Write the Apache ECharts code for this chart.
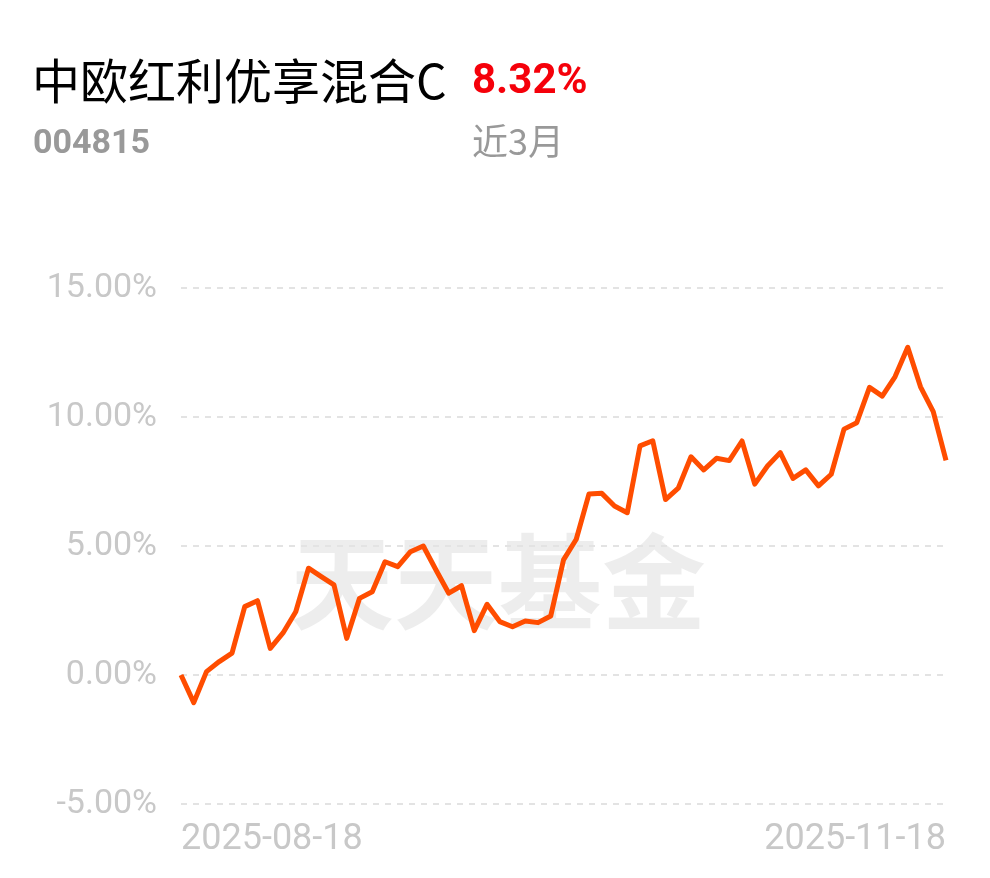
<!DOCTYPE html>
<html><head><meta charset="utf-8">
<script src="https://cdn.jsdelivr.net/npm/echarts@6/dist/echarts.min.js"></script>
<style>html,body{margin:0;padding:0;background:#fff}#c{width:990px;height:878px}</style>
</head><body><div id="c"></div>
<script>
var fundName = '中欧红利优享混合C';
var fundCode = '004815';
var periodReturn = '8.32%';
var periodLabel = '近3月';
var watermark = '天天基金';
var dates = [
'2025-08-18','2025-08-19','2025-08-20','2025-08-21','2025-08-22',
'2025-08-25','2025-08-26','2025-08-27','2025-08-28','2025-08-29',
'2025-09-01','2025-09-02','2025-09-03','2025-09-04','2025-09-05',
'2025-09-08','2025-09-09','2025-09-10','2025-09-11','2025-09-12',
'2025-09-15','2025-09-16','2025-09-17','2025-09-18','2025-09-19',
'2025-09-22','2025-09-23','2025-09-24','2025-09-25','2025-09-26',
'2025-09-29','2025-09-30',
'2025-10-09','2025-10-10',
'2025-10-13','2025-10-14','2025-10-15','2025-10-16','2025-10-17',
'2025-10-20','2025-10-21','2025-10-22','2025-10-23','2025-10-24',
'2025-10-27','2025-10-28','2025-10-29','2025-10-30','2025-10-31',
'2025-11-03','2025-11-04','2025-11-05','2025-11-06','2025-11-07',
'2025-11-10','2025-11-11','2025-11-12','2025-11-13','2025-11-14',
'2025-11-17','2025-11-18'];
var returns = [
0.00,-1.07,0.13,0.52,0.85,2.65,2.88,1.03,1.63,2.45,
4.14,3.81,3.49,1.42,2.97,3.23,4.39,4.20,4.78,5.00,
4.07,3.17,3.46,1.72,2.74,2.07,1.87,2.09,2.03,2.29,
4.46,5.26,7.02,7.04,6.55,6.29,8.88,9.08,6.80,7.24,
8.46,7.95,8.40,8.31,9.07,7.40,8.10,8.62,7.62,7.95,
7.33,7.78,9.53,9.78,11.15,10.81,11.56,12.70,11.17,10.21,8.32];
var yMin = -5, yMax = 15, yStep = 5;

var chart = echarts.init(document.getElementById('c'));
var last = dates.length - 1;
chart.setOption({
  animation: false,
  backgroundColor: '#fff',
  grid: {left: 181, right: 44, top: 288, bottom: 74},
  graphic: [
    {type:'text', left:32, top:57, z:10, style:{text:fundName, fill:'#000', font:'normal 48px "Noto Sans CJK SC", sans-serif'}},
    {type:'text', left:472, top:61, z:10, style:{text:periodReturn, fill:'#f5000a', font:'bold 42px Roboto, "Noto Sans", sans-serif'}},
    {type:'text', left:33, top:127, z:10, style:{text:fundCode, fill:'#999', font:'bold 34px Roboto, "Noto Sans", sans-serif'}},
    {type:'text', left:472, top:123, z:10, style:{text:periodLabel, fill:'#999', font:'normal 36px "Noto Sans CJK SC", sans-serif'}},
    {type:'text', left:290, top:530, z:0, silent:true, style:{text:watermark, fill:'rgba(0,0,0,0.07)', font:'bold 104px "Noto Sans CJK SC", sans-serif'}}
  ],
  xAxis: {
    type: 'category', data: dates, boundaryGap: false,
    axisLine: {show:false}, axisTick: {show:false}, splitLine: {show:false},
    axisLabel: {
      interval: function(i){ return i === 0 || i === last; },
      showMinLabel: true, showMaxLabel: true,
      alignMinLabel: 'left', alignMaxLabel: 'right',
      color: '#c8c8c8', fontSize: 36, fontFamily: 'Roboto, sans-serif', margin: 18
    }
  },
  yAxis: {
    type: 'value', min: yMin, max: yMax, interval: yStep,
    axisLine: {show:false}, axisTick: {show:false},
    axisLabel: {
      formatter: function(v){ return v.toFixed(2) + '%'; },
      color: '#c8c8c8', fontSize: 34, fontFamily: 'Roboto, sans-serif', margin: 24
    },
    splitLine: {lineStyle: {color: '#e3e3e3', width: 2, type: [6, 6]}}
  },
  series: [{
    type: 'line', data: returns, showSymbol: false, symbol: 'none', smooth: false,
    lineStyle: {color: '#ff4d00', width: 5, join: 'round'}, z: 5
  }]
});
</script></body></html>
